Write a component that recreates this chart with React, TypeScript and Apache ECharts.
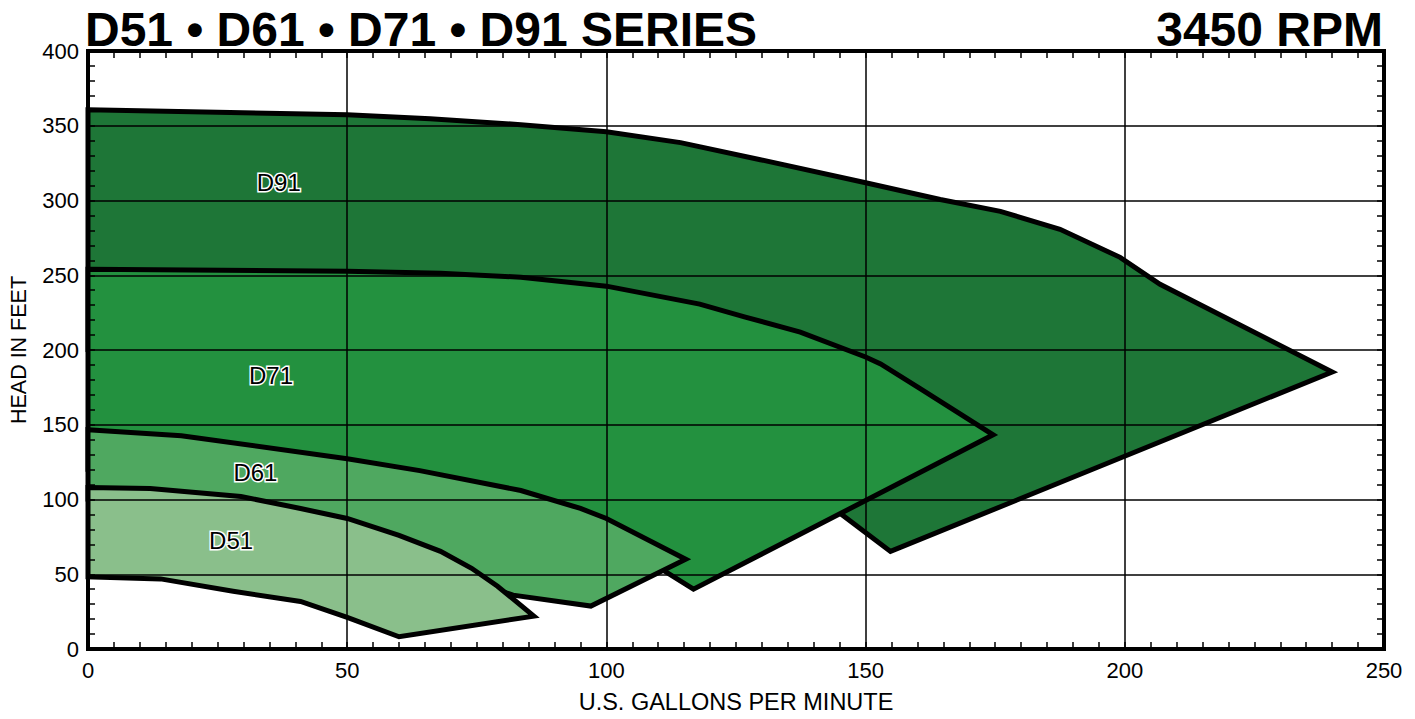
import React, { useEffect, useRef } from "react";
import * as echarts from "echarts";

const FONT = '"Liberation Sans", Arial, Helvetica, sans-serif';

// x-axis / y-axis tick settings
const xMin = 0, xMax = 250, xStep = 50;
const yMin = 0, yMax = 400, yStep = 50;

// Pump performance envelopes: [gpm, head ft], closed polygons (top curve, tip, lower edge)
const d91Points: number[][] = [
  [0, 360.7], [50, 357.3], [66, 354.7], [83.5, 350.7], [100, 346], [114.3, 338.7],
  [129.7, 327.3], [149.8, 312], [164.4, 300.7], [176, 292.7], [187.5, 280.7],
  [199.1, 262], [206.8, 244], [240, 185.3], [154.8, 65.3], [145, 91], [135, 120], [0, 200],
];
const d71Points: number[][] = [
  [0, 254], [50, 252.7], [68, 251.3], [83.5, 248.7], [100, 242.7], [118, 230.7],
  [126.8, 222], [137.4, 212], [150, 195.3], [152.9, 190.7], [160.6, 174], [174.6, 143.3],
  [116.8, 40], [111, 52.6], [95, 60], [0, 120],
];
const d61Points: number[][] = [
  [0, 146.7], [18, 142.7], [50, 127.3], [64, 119.3], [83.5, 106], [95, 94], [100, 87.3],
  [115.3, 60], [97, 28.7], [82, 36], [70, 50], [0, 100],
];
const d51Points: number[][] = [
  [0, 108], [12, 107.3], [29.5, 102], [41, 94], [50, 87.3], [60, 76], [68, 65.3],
  [74, 54], [79, 42], [86, 22], [60, 8.2], [50, 21.1], [41, 31.8], [28, 38.6],
  [14, 46.9], [0, 48.2],
];

const seriesNames = ["D91", "D71", "D61", "D51"];
const seriesColors = ["#1e7637", "#23913f", "#4fa860", "#8abf8b"];
const seriesPoints = [d91Points, d71Points, d61Points, d51Points];

// Label anchor points (data coords)
const labelX = [36.8, 35.3, 32.3, 27.6];
const labelY = [312, 182.7, 118, 72.3];

const titleLeft = "D51 • D61 • D71 • D91 SERIES";
const titleRight = "3450 RPM";
const xName = "U.S. GALLONS PER MINUTE";
const yName = "HEAD IN FEET";

export default function App() {
  const ref = useRef<HTMLDivElement>(null);
  useEffect(() => {
    if (!ref.current) return;
    const chart = echarts.init(ref.current, undefined, { renderer: "svg" });

    const axisLine = { show: true, onZero: false, lineStyle: { color: "#000", width: 4, cap: "square" } };
    const axisTick = { show: true, inside: true, length: 7, lineStyle: { color: "#000", width: 1.5 } };
    const splitLine = { show: true, lineStyle: { color: "#000", width: 1.5 } };

    const polySeries = seriesPoints.map((pts, i) => ({
      type: "custom",
      name: seriesNames[i],
      z: 2 + i,
      xAxisIndex: 0,
      yAxisIndex: 0,
      data: pts,
      encode: { x: 0, y: 1 },
      renderItem: (params: any, api: any) => {
        if (params.dataIndex !== 0) return null;
        const points = pts.map((p) => api.coord(p));
        return {
          type: "polygon",
          shape: { points },
          style: { fill: seriesColors[i], stroke: "#000", lineWidth: 5, lineJoin: "miter", miterLimit: 10 },
        };
      },
    }));

    const labelData = seriesNames.map((n, i) => [labelX[i], labelY[i]]);

    const option: any = {
      animation: false,
      backgroundColor: "#fff",
      title: [
        {
          text: titleLeft,
          left: 85,
          top: 5,
          padding: 0,
          textStyle: { fontFamily: FONT, fontWeight: "bold", fontSize: 48, color: "#000", lineHeight: 48 },
        },
        {
          text: titleRight,
          right: 32,
          top: 5,
          padding: 0,
          textStyle: { fontFamily: FONT, fontWeight: "bold", fontSize: 48, color: "#000", lineHeight: 48 },
        },
      ],
      grid: { left: 87, right: 31, top: 51, bottom: 68, containLabel: false },
      xAxis: [
        {
          type: "value",
          position: "bottom",
          min: xMin,
          max: xMax,
          interval: xStep,
          z: 20,
          axisLine,
          axisTick,
          minorTick: { show: true, splitNumber: 10, length: 7, lineStyle: { color: "#000", width: 1.5 } },
          splitLine,
          axisLabel: { color: "#000", fontSize: 22, fontFamily: FONT, margin: 10 },
          name: xName,
          nameLocation: "middle",
          nameGap: 41,
          nameTextStyle: { color: "#000", fontSize: 23.5, fontFamily: FONT },
        },
        {
          type: "value",
          position: "top",
          min: xMin,
          max: xMax,
          interval: xStep,
          z: 20,
          axisLine,
          axisTick,
          minorTick: { show: true, splitNumber: 10, length: 7, lineStyle: { color: "#000", width: 1.5 } },
          splitLine: { show: false },
          axisLabel: { show: false },
        },
      ],
      yAxis: [
        {
          type: "value",
          position: "left",
          min: yMin,
          max: yMax,
          interval: yStep,
          z: 20,
          axisLine,
          axisTick,
          minorTick: { show: true, splitNumber: 5, length: 7, lineStyle: { color: "#000", width: 1.5 } },
          splitLine,
          axisLabel: { color: "#000", fontSize: 22, fontFamily: FONT, margin: 9 },
          name: yName,
          nameLocation: "middle",
          nameGap: 58,
          nameRotate: 90,
          nameTextStyle: { color: "#000", fontSize: 21.5, fontFamily: FONT },
        },
        {
          type: "value",
          position: "right",
          min: yMin,
          max: yMax,
          interval: yStep,
          z: 20,
          axisLine,
          axisTick,
          minorTick: { show: true, splitNumber: 5, length: 7, lineStyle: { color: "#000", width: 1.5 } },
          splitLine: { show: false },
          axisLabel: { show: false },
        },
      ],
      series: [
        ...polySeries,
        {
          type: "custom",
          z: 30,
          xAxisIndex: 0,
          yAxisIndex: 0,
          data: labelData,
          encode: { x: 0, y: 1 },
          renderItem: (params: any, api: any) => {
            const p = api.coord([api.value(0), api.value(1)]);
            const txt = seriesNames[params.dataIndex];
            const base = {
              text: txt,
              fontSize: 24,
              fontFamily: FONT,
              align: "center",
              verticalAlign: "middle",
            };
            return {
              type: "group",
              children: [
                {
                  type: "text",
                  x: p[0],
                  y: p[1],
                  style: { ...base, fill: "#fff", stroke: "#fff", lineWidth: 3 },
                },
                {
                  type: "text",
                  x: p[0],
                  y: p[1],
                  style: { ...base, fill: "#000" },
                },
              ],
            };
          },
        },
      ],
    };

    chart.setOption(option);
    return () => chart.dispose();
  }, []);

  return (
    <div
      ref={ref}
      style={{ position: "absolute", left: 0, top: 0, width: 1415, height: 719, background: "#fff" }}
    />
  );
}
